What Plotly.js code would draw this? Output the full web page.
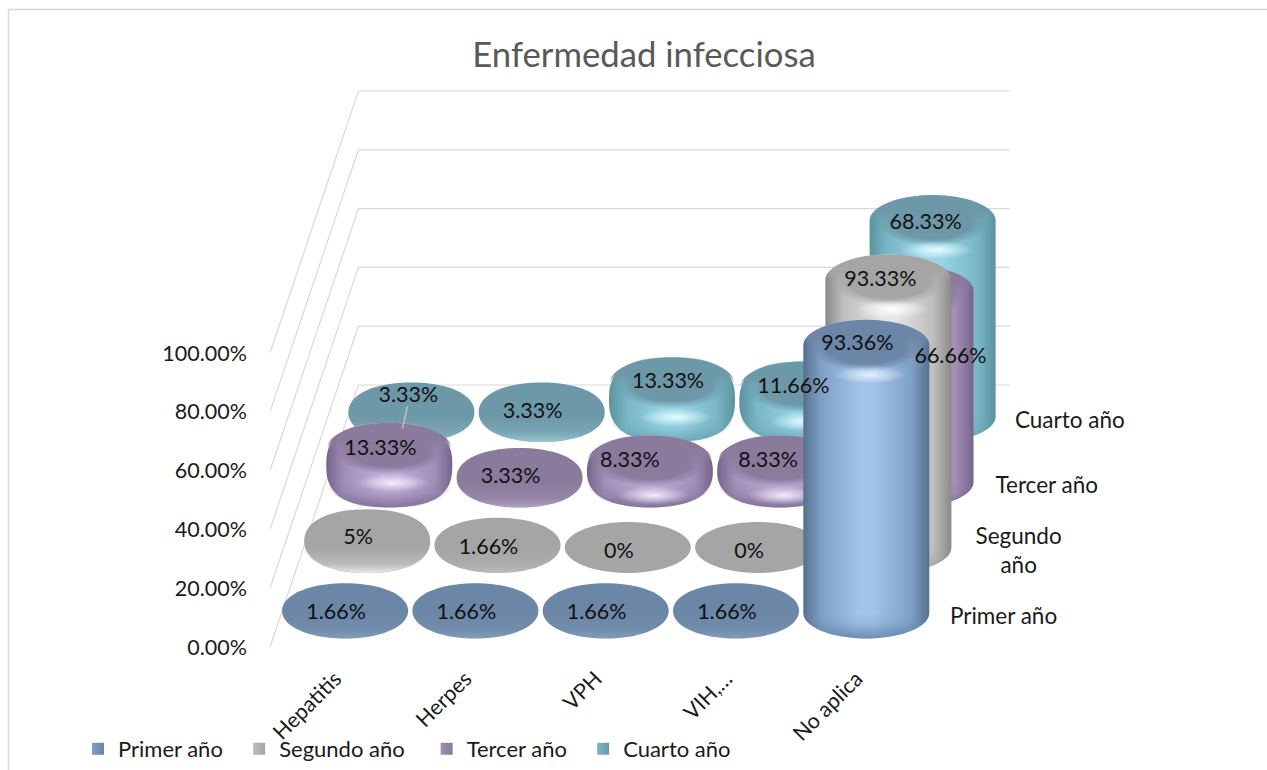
<!DOCTYPE html>
<html><head><meta charset="utf-8">
<script src="https://cdn.plot.ly/plotly-3.0.1.min.js"></script>
<style>html,body{margin:0;padding:0;background:#fff}#c{width:1267px;height:770px}</style>
</head><body><div id="c"></div>
<script>
const categories = ['Hepatitis','Herpes','VPH','VIH,…','No aplica'];
const seriesNames = ['Primer año','Segundo año','Tercer año','Cuarto año'];
const primerAno  = [1.66,1.66,1.66,1.66,93.36];
const segundoAno = [5,1.66,0,0,93.33];
const tercerAno  = [13.33,3.33,8.33,8.33,66.66];
const cuartoAno  = [3.33,3.33,13.33,11.66,68.33];
const valueTicks = [0,20,40,60,80,100];
const allValues = [primerAno,segundoAno,tercerAno,cuartoAno];
const labelsText = v => v.map(n => (Number.isInteger(n)? n : n.toFixed(2)) + '%');
const depthLabels = ['Primer año','Segundo<br>año','Tercer año','Cuarto año'];

/* ---- oblique projection and style ---- */
const W=1267,H=770,L=270,B=647;
const catPx=130.3, valPx=2.94;
const PX=1/catPx, PY=1/valPx;
const depthX=22.1*PX, depthY=65.5*PY;      // shift per series, in axis units
const RX=63*PX, RY=25.5*PY;
const heightFactor=0.975;
const FONT='Lato, Carlito, sans-serif';
const seriesStyle=[
 {top:'#6b86a6',edge:'#56718f',mid:'#7f9fc6',light:'#a3c2e8',rim:'#b9cfe8',shade:'#55779f',glow:'#e8f2ff'},
 {top:'#a5a5a5',edge:'#8a8a8a',mid:'#bdbdbd',light:'#e4e4e4',rim:'#f4f4f4',shade:'#8a8a8a',glow:'#ffffff'},
 {top:'#8a7a9c',edge:'#75638a',mid:'#a18fb8',light:'#bfaed6',rim:'#cdbde0',shade:'#6d5a84',glow:'#f7f0ff'},
 {top:'#6d98a8',edge:'#5b929f',mid:'#78b6c6',light:'#98d6e6',rim:'#b5e6f0',shade:'#5a94a6',glow:'#eaffff'}
];
const labelNudge={ '3,0':[6,-16], '2,4':[49,61], '2,2':[-11,-2], '2,3':[-3,-2], '3,2':[5,-1], '3,3':[0,-1],
                   '0,4':[0,-6], '1,4':[1,-5], '3,4':[2,-2] };

function rgba(hex,a){const n=parseInt(hex.slice(1),16);return `rgba(${n>>16},${(n>>8)&255},${n&255},${a})`;}
const fx=(i,s)=>i+(s+0.45)*depthX;
const fy=s=>(s+0.52)*depthY;
function arc(cx,cy,rx,ry,a0,a1,n=48){const X=[],Y=[];for(let k=0;k<=n;k++){const t=a0+(a1-a0)*k/n;X.push(cx+rx*Math.cos(t));Y.push(cy+ry*Math.sin(t));}return [X,Y];}
function superEll(cx,cy,rx,ry,p,n=96){const X=[],Y=[];for(let k=0;k<=n;k++){const t=2*Math.PI*k/n,c=Math.cos(t),o=Math.sin(t);
  X.push(cx+rx*Math.sign(c)*Math.pow(Math.abs(c),2/p));Y.push(cy+ry*Math.sign(o)*Math.pow(Math.abs(o),2/p));}return [X,Y];}
const poly=(x,y,fillgradient)=>({type:'scatter',mode:'none',x,y,fill:'toself',fillgradient,hoverinfo:'skip',showlegend:false});
const vert=(cs)=>({type:'vertical',colorscale:cs});
const horz=(cs)=>({type:'horizontal',colorscale:cs});
const rad=(cs)=>({type:'radial',colorscale:cs});

function barTraces(i,s,v){
 const st=seriesStyle[s],cx=fx(i,s),by=fy(s),out=[];
 const full=v*heightFactor/PY;
 const h=full<70?full*0.88:full;
 const ty=by+h*PY;
 const low=arc(cx,by,RX,RY,Math.PI,2*Math.PI);
 let sx,sy;
 if(h<70){
   const q=superEll(cx,(by+ty)/2,RX,RY+h*PY/2,2+h/55);
   sx=q[0];sy=q[1];
 }else{
   const a=arc(cx,ty,RX,RY,0,Math.PI);
   sx=a[0].concat(low[0]);sy=a[1].concat(low[1]);
 }
 if(h<20){
  out.push(poly(sx,sy,vert([[0,rgba(st.top,1)],[1,rgba(st.top,1)]])));
  const e=Math.min(1,h/14);
  if(h>0.5) out.push(poly(low[0],low[1],vert([[0,rgba(st.rim,e*0.95)],[0.35,rgba(st.rim,e*0.3)],[1,rgba(st.rim,0)]])));
  return out;
 }
 out.push(poly(sx,sy,horz([[0,st.edge],[0.14,st.mid],[0.44,st.light],[0.56,st.light],[0.86,st.mid],[1,st.edge]])));
 out.push(poly(low[0],low[1],vert([[0,rgba(st.shade,0.7)],[0.6,rgba(st.shade,0.12)],[1,rgba(st.shade,0)]])));
 const t=arc(cx,ty,RX*0.985,RY,0,2*Math.PI);
 out.push(poly(t[0],t[1],vert([[0,rgba(st.top,0)],[0.5,rgba(st.top,0)],[0.66,rgba(st.top,1)],[1,rgba(st.top,1)]])));
 const d=arc(cx,ty-1*PY,RX*0.9,RY*0.98,0,2*Math.PI);
 out.push(poly(d[0],d[1],rad([[0,rgba(st.top,1)],[0.7,rgba(st.top,1)],[1,rgba(st.top,0)]])));
 const off=h>70?RY+4*PY:RY+9*PY;
 const g=arc(cx+4*PX,ty-off,RX*0.58,9*PY,0,2*Math.PI);
 out.push(poly(g[0],g[1],rad([[0,rgba(st.glow,0.95)],[0.4,rgba(st.glow,0.55)],[1,rgba(st.glow,0)]])));
 return out;
}

const traces=[];
/* walls and gridlines */
const backX=-0.5+4*depthX, backY=4*depthY, rightX=4.5+4*depthX;
valueTicks.forEach(v=>traces.push({type:'scatter',mode:'lines',x:[-0.5,backX,rightX],y:[v,v+backY,v+backY],
  line:{color:'#d9d9d9',width:1.2},hoverinfo:'skip',showlegend:false}));
/* bars, back to front */
for(let s=3;s>=0;s--) categories.forEach((c,i)=>traces.push(...barTraces(i,s,allValues[s][i])));
/* leader line */
traces.push({type:'scatter',mode:'lines',x:[fx(0,3)-4*PX,fx(0,3)-9*PX],y:[fy(3)+10*PY,fy(3)-12*PY],line:{color:'#bfbfbf',width:1.5},hoverinfo:'skip',showlegend:false});
/* data labels */
allValues.forEach((vals,s)=>{
 const tx=vals.map((v,i)=>{const n=labelNudge[s+','+i]||[0,0];return fx(i,s)+(-9+n[0])*PX;});
 const ty=vals.map((v,i)=>{const n=labelNudge[s+','+i]||[0,0];return fy(s)+v*heightFactor+(-5.5-n[1])*PY;});
 traces.push({type:'scatter',mode:'text',x:tx,y:ty,text:labelsText(vals),textposition:'middle center',
  textfont:{family:FONT,size:21.5,color:'#111'},cliponaxis:false,hoverinfo:'skip',showlegend:false});
});
/* depth axis labels */
const nudgeDepth=[71,64,70,71];
traces.push({type:'scatter',mode:'text',
 x:seriesNames.map((n,s)=>4.5+(s+0.5)*depthX+nudgeDepth[s]*PX),
 y:seriesNames.map((n,s)=>(s+0.435)*depthY),
 text:depthLabels,textposition:'middle center',textfont:{family:FONT,size:22.5,color:'#1a1a1a'},
 hoverinfo:'skip',showlegend:false});
/* legend */
const pads=[2,3,2,2];
seriesNames.forEach((n,s)=>traces.push({type:'scatter',mode:'markers',x:[null],y:[null],name:n+'\u00a0'.repeat(pads[s]),
 marker:{symbol:'square',size:12,color:seriesStyle[s].mid,line:{width:0},gradient:{type:'horizontal',color:seriesStyle[s].top}},hoverinfo:'skip'}));

const yTop=B/valPx;
const xEnd=-0.5+(W-L)/catPx;
const pxX=p=>(p-L)/(W-L), pxY=p=>(B-p)/B;
Plotly.newPlot('c',traces,{
 width:W,height:H,paper_bgcolor:'#fff',plot_bgcolor:'rgba(0,0,0,0)',
 margin:{l:L,r:0,t:0,b:H-B,pad:0},
 title:{text:'Enfermedad infecciosa',x:644/W,xref:'container',xanchor:'center',y:1-55/H,yanchor:'middle',yref:'container',
   font:{family:FONT,size:34.7,color:'#595959'}},
 xaxis:{range:[-0.5,xEnd],tickmode:'array',tickvals:categories.map((c,i)=>i),ticktext:categories,tickangle:-45,
   showgrid:false,zeroline:false,showline:false,ticks:'',ticklabelstandoff:14,fixedrange:true,
   tickfont:{family:FONT,size:21.5,color:'#1a1a1a'}},
 yaxis:{range:[0,yTop],tickmode:'array',tickvals:valueTicks,ticktext:valueTicks.map(v=>v.toFixed(2)+'%'),
   showgrid:false,zeroline:false,showline:false,ticks:'',ticklabelstandoff:22,fixedrange:true,
   tickfont:{family:FONT,size:21.5,color:'#1a1a1a'}},
 showlegend:true,
 legend:{orientation:'h',x:pxX(78),xanchor:'left',y:pxY(749),yanchor:'middle',itemwidth:30,itemclick:false,itemdoubleclick:false,
   font:{family:FONT,size:22,color:'#1a1a1a'},bgcolor:'rgba(0,0,0,0)'},
 shapes:[
  {type:'line',xref:'paper',yref:'paper',x0:pxX(8),x1:pxX(1267),y0:pxY(9.5),y1:pxY(9.5),line:{color:'#d9d9d9',width:1.5}},
  {type:'line',xref:'paper',yref:'paper',x0:pxX(8.5),x1:pxX(8.5),y0:pxY(9.5),y1:pxY(770),line:{color:'#d9d9d9',width:1.5}}
 ]
},{displayModeBar:false,responsive:false});
</script></body></html>
